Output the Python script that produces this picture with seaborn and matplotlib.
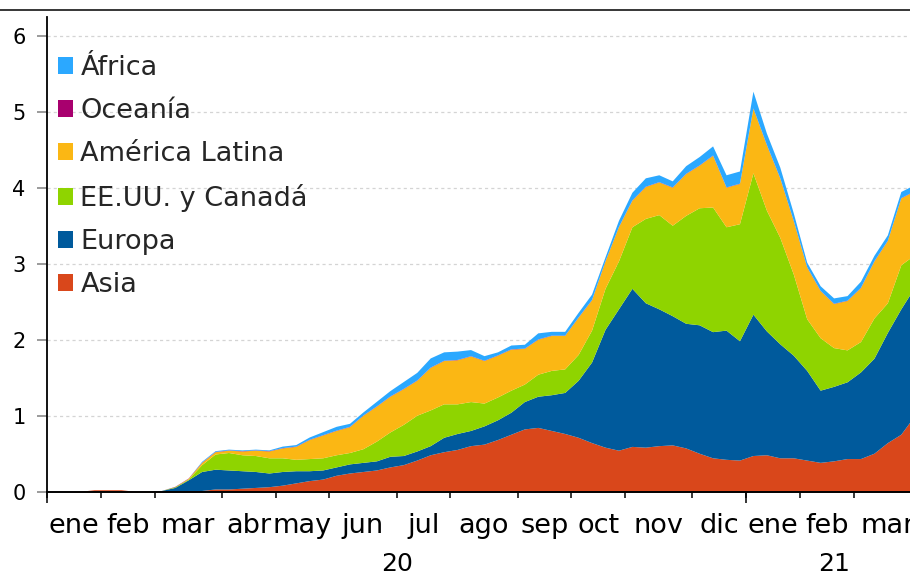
import numpy as np
import pandas as pd
import matplotlib
matplotlib.use("Agg")
import matplotlib.pyplot as plt
from matplotlib.patches import Patch
from matplotlib.lines import Line2D
from matplotlib.transforms import blended_transform_factory
import seaborn as sns

# ---------------- data (weekly, ene-2020 .. mar-2021) ----------------
month_labels = ['ene', 'feb', 'mar', 'abr', 'may', 'jun', 'jul', 'ago', 'sep',
                'oct', 'nov', 'dic', 'ene', 'feb', 'mar']
weeks_per_month = [4, 4, 5, 4, 4, 5, 4, 5, 4, 4, 5, 4, 4, 4, 5]
year_labels = ['20', '21']
weeks_per_year = [52, 13]

asia = [0, 0, 0.01, 0.03, 0.03, 0.03, 0.01, 0.01, 0.01, 0.01,
        0.02, 0.02, 0.04, 0.04, 0.05, 0.06, 0.07, 0.09, 0.12, 0.15,
        0.17, 0.22, 0.25, 0.27, 0.29, 0.33, 0.36, 0.42, 0.49, 0.53,
        0.56, 0.61, 0.63, 0.69, 0.76, 0.83, 0.85, 0.81, 0.77, 0.72,
        0.65, 0.59, 0.55, 0.60, 0.59, 0.61, 0.62, 0.58, 0.51, 0.45,
        0.43, 0.42, 0.48, 0.49, 0.45, 0.45, 0.42, 0.39, 0.41, 0.44,
        0.44, 0.51, 0.65, 0.76, 1.00]
europa = [0, 0, 0, 0, 0, 0, 0, 0, 0.01, 0.05,
          0.14, 0.25, 0.26, 0.25, 0.23, 0.21, 0.18, 0.18, 0.16, 0.13,
          0.12, 0.11, 0.12, 0.12, 0.12, 0.14, 0.12, 0.12, 0.12, 0.19,
          0.21, 0.20, 0.24, 0.26, 0.29, 0.36, 0.41, 0.47, 0.54, 0.75,
          1.06, 1.55, 1.86, 2.08, 1.90, 1.80, 1.70, 1.64, 1.69, 1.66,
          1.70, 1.57, 1.86, 1.63, 1.50, 1.35, 1.18, 0.95, 0.98, 1.01,
          1.14, 1.25, 1.45, 1.65, 1.69]
eeuu_canada = [0, 0, 0, 0, 0, 0, 0, 0, 0, 0.01,
               0.01, 0.09, 0.20, 0.23, 0.21, 0.21, 0.20, 0.18, 0.15, 0.16,
               0.16, 0.16, 0.15, 0.18, 0.26, 0.32, 0.41, 0.47, 0.47, 0.44,
               0.39, 0.38, 0.30, 0.30, 0.29, 0.23, 0.29, 0.32, 0.31, 0.34,
               0.42, 0.54, 0.63, 0.81, 1.11, 1.24, 1.19, 1.42, 1.54, 1.64,
               1.36, 1.54, 1.86, 1.59, 1.40, 1.07, 0.68, 0.69, 0.51, 0.42,
               0.40, 0.53, 0.39, 0.58, 0.43]
america_latina = [0, 0, 0, 0, 0, 0, 0, 0, 0, 0,
                  0.01, 0.03, 0.03, 0.03, 0.05, 0.07, 0.09, 0.13, 0.17, 0.25,
                  0.30, 0.32, 0.34, 0.44, 0.46, 0.47, 0.47, 0.46, 0.56, 0.57,
                  0.58, 0.60, 0.56, 0.55, 0.54, 0.47, 0.46, 0.46, 0.44, 0.49,
                  0.40, 0.36, 0.45, 0.35, 0.42, 0.43, 0.50, 0.55, 0.56, 0.68,
                  0.52, 0.53, 0.85, 0.86, 0.78, 0.70, 0.68, 0.62, 0.58, 0.65,
                  0.71, 0.75, 0.82, 0.88, 0.84]
oceania = [0, 0, 0, 0, 0, 0, 0, 0, 0, 0.004,
           0.004, 0.004, 0.004, 0.004, 0.004, 0.004, 0.004, 0.004, 0.004, 0.004,
           0.004, 0.004, 0.004, 0.004, 0.004, 0.004, 0.004, 0.004, 0.004, 0.004,
           0.004, 0.004, 0.004, 0.004, 0.004, 0.004, 0.004, 0.004, 0.004, 0.004,
           0.004, 0.004, 0.004, 0.004, 0.004, 0.004, 0.004, 0.004, 0.004, 0.004,
           0.004, 0.004, 0.004, 0.004, 0.004, 0.004, 0.004, 0.004, 0.004, 0.004,
           0.004, 0.004, 0.004, 0.004, 0.004]
africa = [0, 0, 0, 0, 0, 0, 0, 0, 0, 0,
          0, 0.01, 0.01, 0.01, 0.01, 0.01, 0.01, 0.02, 0.02, 0.03,
          0.04, 0.05, 0.04, 0.04, 0.06, 0.07, 0.09, 0.10, 0.12, 0.11,
          0.11, 0.08, 0.06, 0.04, 0.05, 0.05, 0.08, 0.05, 0.05, 0.06,
          0.07, 0.05, 0.08, 0.10, 0.11, 0.09, 0.08, 0.10, 0.11, 0.12,
          0.16, 0.16, 0.22, 0.15, 0.14, 0.10, 0.06, 0.06, 0.07, 0.06,
          0.08, 0.07, 0.07, 0.08, 0.08]

series_names = ['Asia', 'Europa', 'EE.UU. y Canadá', 'América Latina', 'Oceanía', 'África']
series_colors = ['#D9471B', '#005A9C', '#8FD400', '#FBB714', '#A8006E', '#2BA8FF']

df = pd.DataFrame({
    'Asia': asia, 'Europa': europa, 'EE.UU. y Canadá': eeuu_canada,
    'América Latina': america_latina, 'Oceanía': oceania, 'África': africa,
})
df['x'] = np.arange(len(df)) + 0.5

# ---------------- style ----------------
sns.set_theme(style='white')
plt.rcParams['font.family'] = ['DejaVu Sans']

W, H = 910, 576
fig = plt.figure(figsize=(W / 100, H / 100), dpi=100)
n_weeks = len(df)
px_per_week = 13.446
ax_left, ax_bottom, ax_top = 47, 492, 17
ax_right = ax_left + n_weeks * px_per_week
ax = fig.add_axes([ax_left / W, (H - ax_bottom) / H,
                   (ax_right - ax_left) / W, (ax_bottom - ax_top) / H])

ax.stackplot(df['x'], [df[c] for c in series_names], colors=series_colors,
             linewidth=0, zorder=2)

ax.set_xlim(0, n_weeks)
ax.set_ylim(0, 6.25)

# grid
ax.set_yticks(range(0, 7))
ax.yaxis.grid(True, color='#D4D4D4', linestyle=(0, (2.5, 2.5)), linewidth=0.9, zorder=0)
ax.xaxis.grid(False)
ax.set_axisbelow(True)

# spines
for s in ['top', 'right']:
    ax.spines[s].set_visible(False)
ax.spines['left'].set_color('black')
ax.spines['left'].set_linewidth(1.3)
ax.spines['bottom'].set_color('black')
ax.spines['bottom'].set_linewidth(1.4)
ax.spines['bottom'].set_zorder(5)

# y ticks
ax.tick_params(axis='y', which='major', direction='out', length=7.5, width=1.1,
               color='#808080', labelsize=15, pad=8, labelcolor='black', left=True)

# x ticks: month boundaries (major), month labels at centres (minor)
bounds = np.concatenate([[0], np.cumsum(weeks_per_month)])
centers = (bounds[:-1] + bounds[1:]) / 2
ax.set_xticks(bounds)
ax.set_xticklabels([''] * len(bounds))
ax.set_xticks(centers, minor=True)
ax.set_xticklabels(month_labels, minor=True)
ax.tick_params(axis='x', which='major', direction='out', length=4, width=1.1,
               color='black', bottom=True)
ax.tick_params(axis='x', which='minor', length=0, labelsize=19.5, pad=15,
               labelcolor='black', bottom=True)

# year boundaries: longer ticks via secondary axis
ybounds = np.concatenate([[0], np.cumsum(weeks_per_year)])
sec = ax.secondary_xaxis('bottom')
sec.spines['bottom'].set_visible(False)
sec.set_xticks(ybounds[:-1])
sec.set_xticklabels([''] * (len(ybounds) - 1))
sec.tick_params(axis='x', direction='out', length=8, width=1.1, color='black')

# year labels
trans = blended_transform_factory(ax.transData, fig.transFigure)
ycent = (ybounds[:-1] + ybounds[1:]) / 2
for xc, lab in zip(ycent, year_labels):
    ax.text(xc, (H - 575.8) / H, lab, transform=trans, ha='center', va='bottom',
            fontsize=18, color='black')

# legend (reverse order)
handles = [Patch(facecolor=c, edgecolor='none') for c in series_colors][::-1]
labels = series_names[::-1]
leg = fig.legend(handles, labels, loc='upper left',
                 bbox_to_anchor=(58 / W, (H - 55) / H), frameon=False,
                 fontsize=19.5, handlelength=0.56, handleheight=0.56,
                 handletextpad=0.27, labelspacing=0.63, borderpad=0,
                 borderaxespad=0)

# top rule
fig.add_artist(Line2D([0, 1], [(H - 10) / H, (H - 10) / H], color='black',
                      linewidth=1.1, transform=fig.transFigure))

fig.savefig('out.png', dpi=100)
